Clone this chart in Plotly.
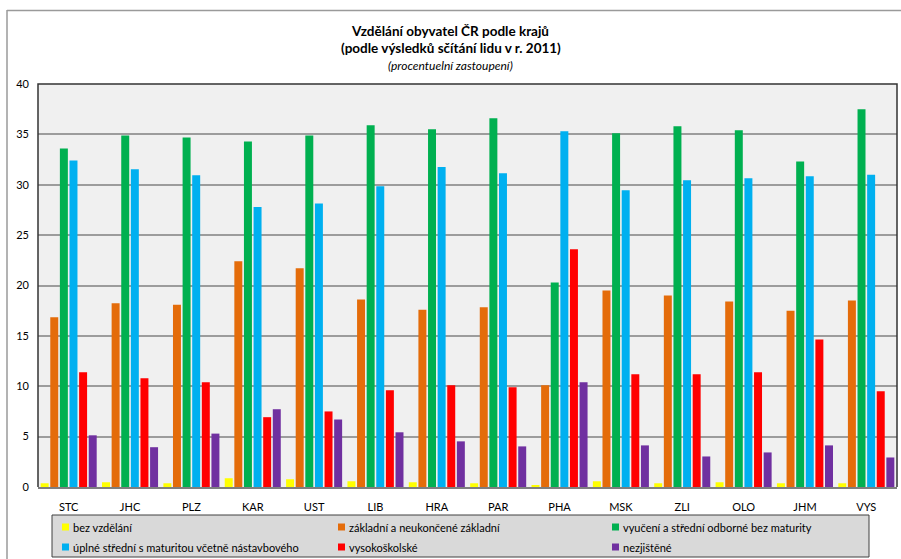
import plotly.graph_objects as go

# Regions (kraje) and education categories
regions = ["STC", "JHC", "PLZ", "KAR", "UST", "LIB", "HRA", "PAR", "PHA", "MSK", "ZLI", "OLO", "JHM", "VYS"]

bez_vzdelani = [0.37, 0.47, 0.37, 0.87, 0.77, 0.57, 0.47, 0.37, 0.17, 0.57, 0.37, 0.47, 0.37, 0.37]
zakladni = [16.85, 18.25, 18.1, 22.4, 21.7, 18.6, 17.6, 17.85, 10.1, 19.5, 19.0, 18.4, 17.5, 18.5]
vyuceni = [33.6, 34.9, 34.7, 34.3, 34.9, 35.9, 35.5, 36.6, 20.3, 35.1, 35.8, 35.4, 32.3, 37.5]
uplne_stredni = [32.4, 31.55, 30.95, 27.8, 28.15, 29.85, 31.75, 31.15, 35.3, 29.45, 30.45, 30.65, 30.85, 31.0]
vysokoskolske = [11.4, 10.8, 10.4, 6.93, 7.5, 9.6, 10.1, 9.9, 23.6, 11.2, 11.2, 11.4, 14.65, 9.5]
nezjistene = [5.13, 3.95, 5.3, 7.72, 6.7, 5.43, 4.53, 4.03, 10.4, 4.13, 3.03, 3.43, 4.13, 2.93]

series_names = [
    "bez vzdělání",
    "základní a neukončené základní",
    "vyučení a střední odborné bez maturity",
    "úplné střední s maturitou včetně nástavbového",
    "vysokoškolské",
    "nezjištěné",
]
series_values = [bez_vzdelani, zakladni, vyuceni, uplne_stredni, vysokoskolske, nezjistene]
series_colors = ["#FFFF00", "#E46C0A", "#00B050", "#00B0F0", "#FF0000", "#7030A0"]

y_ticks = [0, 5, 10, 15, 20, 25, 30, 35, 40]

FONT = "Lato, 'Open Sans', sans-serif"

W, H = 901, 559
ML, MR, MT, MB = 38, 4, 84, 72
PW, PH = W - ML - MR, H - MT - MB


def px_x(x):
    return (x - ML) / PW


def px_y(y):
    return (H - MB - y) / PH


fig = go.Figure()
for name, vals, col in zip(series_names, series_values, series_colors):
    fig.add_trace(go.Bar(x=regions, y=vals, name=name, marker=dict(color=col, line=dict(width=0)),
                         showlegend=False))

shapes = []
annotations = []

# outer chart frame (left and top edges)
shapes.append(dict(type="line", xref="paper", yref="paper", x0=px_x(7), x1=px_x(7),
                   y0=px_y(10), y1=px_y(H + 5), line=dict(color="#9a9a9a", width=1.5)))
shapes.append(dict(type="line", xref="paper", yref="paper", x0=px_x(7), x1=px_x(W + 5),
                   y0=px_y(10.5), y1=px_y(10.5), line=dict(color="#9a9a9a", width=1.5)))

# plot area border (top, left, right)
shapes.append(dict(type="path", xref="paper", yref="paper",
                   path="M 0,0 L 0,1 L 1,1 L 1,0", line=dict(color="#333333", width=1.5)))

# legend box with coloured keys, three columns by two rows
lx0, lx1, ly0, ly1 = 52, 869, 515, 557
shapes.append(dict(type="rect", xref="paper", yref="paper", layer="below",
                   x0=px_x(lx0), x1=px_x(lx1), y0=px_y(ly1), y1=px_y(ly0),
                   fillcolor="#D9D9D9", line=dict(color="#404040", width=1)))
col_x = [62, 338, 612]
row_y = [527, 547]
for i, (name, col) in enumerate(zip(series_names, series_colors)):
    cx = col_x[i % 3]
    cy = row_y[i // 3]
    shapes.append(dict(type="rect", xref="paper", yref="paper",
                       x0=px_x(cx), x1=px_x(cx + 7), y0=px_y(cy + 3.5), y1=px_y(cy - 3.5),
                       fillcolor=col, line=dict(width=0)))
    annotations.append(dict(text=name, xref="paper", yref="paper", x=px_x(cx + 8.5), y=px_y(cy),
                            xanchor="left", yanchor="middle", showarrow=False,
                            font=dict(family=FONT, size=11, color="#000000")))

# subtitle lines
annotations.append(dict(text="<b>(podle výsledků sčítání lidu v r. 2011)</b>", xref="paper", yref="paper",
                        x=px_x(W / 2), y=px_y(48), xanchor="center", yanchor="middle", showarrow=False,
                        font=dict(family=FONT, size=13.5, color="#000000")))
annotations.append(dict(text="<i>(procentuelní zastoupení)</i>", xref="paper", yref="paper",
                        x=px_x(W / 2), y=px_y(65), xanchor="center", yanchor="middle", showarrow=False,
                        font=dict(family=FONT, size=12, color="#000000")))

fig.update_layout(
    width=W, height=H,
    margin=dict(l=ML, r=MR, t=MT, b=MB, pad=0),
    paper_bgcolor="#FFFFFF",
    plot_bgcolor="#F0F0F0",
    barmode="group",
    bargap=0.06,
    bargroupgap=0.17,
    title=dict(text="<b>Vzdělání obyvatel ČR podle krajů</b>", x=0.5, xref="container",
               xanchor="center", y=1 - 31 / H, yanchor="middle",
               font=dict(family=FONT, size=13.5, color="#000000")),
    font=dict(family=FONT, size=11, color="#000000"),
    shapes=shapes,
    annotations=annotations,
    showlegend=False,
)
fig.update_xaxes(showgrid=False, showline=True, linecolor="#7f7f7f", linewidth=2,
                 ticks="", ticklabelstandoff=9, tickfont=dict(family=FONT, size=11, color="#000000"),
                 fixedrange=True)
fig.update_yaxes(range=[0, 40], tickvals=y_ticks, showgrid=True, gridcolor="#9c9c9c", gridwidth=1.5,
                 zeroline=False, showline=False, ticks="", ticklabelstandoff=8,
                 tickfont=dict(family=FONT, size=11, color="#000000"), fixedrange=True)

fig.write_html("out.html")
